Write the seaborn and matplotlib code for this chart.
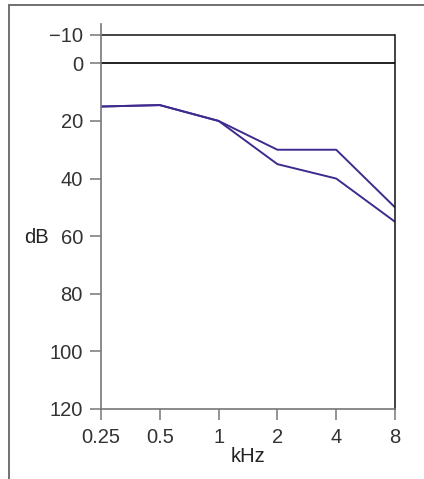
import matplotlib
matplotlib.use("Agg")
import matplotlib.pyplot as plt
import seaborn as sns
import pandas as pd
from matplotlib.lines import Line2D

freqs = ["0.25", "0.5", "1", "2", "4", "8"]
ear_a = [15, 14.5, 20, 30, 30, 50]
ear_b = [15, 14.5, 20, 35, 40, 55]
yticks = [-10, 0, 20, 40, 60, 80, 100, 120]

df = pd.DataFrame({
    "kHz": freqs * 2,
    "dB": ear_a + ear_b,
    "ear": ["a"] * len(freqs) + ["b"] * len(freqs),
})

sns.set_style("white")
plt.rcParams["font.family"] = ["Liberation Sans", "DejaVu Sans"]

fig = plt.figure(figsize=(4.24, 4.79), dpi=100)
ax = fig.add_axes([101 / 424, 1 - 409 / 479, (395 - 101) / 424, (409 - 24) / 479])

line_color = "#3f2a8e"
sns.lineplot(data=df, x="kHz", y="dB", hue="ear", palette=[line_color, line_color],
             sort=False, legend=False, linewidth=1.4, ax=ax)

ax.set_ylim(120, -13.65)
ax.set_xlim(0, len(freqs) - 1)
ax.set_yticks(yticks)
ax.set_yticklabels(["\u221210" if v < 0 else str(v) for v in yticks])
ax.set_xticks(range(len(freqs)))
ax.set_xticklabels(freqs)

ax.axhline(0, color="#222222", lw=1.4, zorder=1)
ax.axhline(-10, color="#111111", lw=1.1, zorder=1)

ax.spines["top"].set_visible(False)
ax.spines["right"].set_bounds(120, -10)
ax.spines["right"].set_color("#111111")
ax.spines["right"].set_linewidth(1.1)
for s in ["left", "bottom"]:
    ax.spines[s].set_color("#777777")
    ax.spines[s].set_linewidth(1.2)

ax.tick_params(axis="both", which="major", direction="out", length=8, width=1.1,
               color="#777777", labelsize=14.5, labelcolor="#333333", pad=5,
               left=True, bottom=True)
ax.tick_params(axis="x", pad=6)

ax.set_xlabel("kHz", fontsize=14.5, color="#222222", labelpad=2)
ax.set_ylabel("dB", fontsize=14.5, color="#222222", rotation=0, labelpad=0)
ax.yaxis.set_label_coords(36.5 / 424, 1 - 237 / 479, transform=fig.transFigure)
ax.xaxis.set_label_coords(248 / 424, 1 - 456 / 479, transform=fig.transFigure)
ax.yaxis.label.set_va("center")
ax.xaxis.label.set_va("center")

# outer frame (cropped)
fig.add_artist(Line2D([9 / 424, 1.01], [1 - 5 / 479, 1 - 5 / 479], transform=fig.transFigure,
                      color="#666666", lw=1.3))
fig.add_artist(Line2D([9 / 424, 9 / 424], [1 - 5 / 479, -0.01], transform=fig.transFigure,
                      color="#666666", lw=1.3))

fig.savefig("out.png", dpi=100)
